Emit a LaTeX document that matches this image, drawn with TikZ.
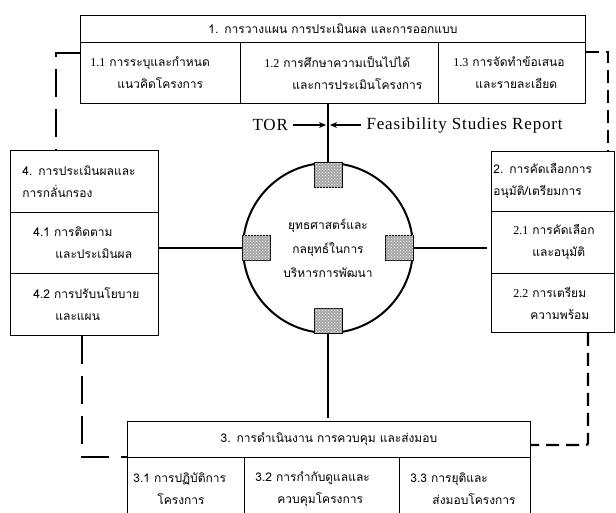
\documentclass[tikz,border=0pt]{standalone}
\usepackage{fontspec}
\setmainfont{Liberation Serif}
\newfontfamily\thai[Script=Thai]{Loma}
\usetikzlibrary{arrows.meta,patterns,calc}
\newcommand{\lnum}[1]{{\rmfamily #1}}
\tikzset{
    cell/.style={draw,rectangle,line width=0.9pt,anchor=north west,inner xsep=0pt,inner ysep=0pt,
                 align=left,font=\thai\fontsize{12}{22}\selectfont},
    head/.style={cell,align=center},
    link/.style={line width=2.5pt},
    dashl/.style={line width=2.8pt,dash pattern=on 28pt off 12pt},
    dashr/.style={line width=2.2pt,dash pattern=on 13pt off 7pt},
    sq/.style={draw,line width=0.8pt,minimum width=28pt,minimum height=25pt,inner sep=0pt,
               fill=gray!70,postaction={pattern=crosshatch dots,pattern color=white}},
    lat/.style={font=\fontsize{17}{19}\selectfont\addfontfeature{LetterSpace=5}},
    inarrow/.style={line width=1.4pt,-{Stealth[length=7pt,width=6pt]}},
}
\begin{document}
\begin{tikzpicture}[x=1pt,y=-1pt]
	\useasboundingbox (0,0) rectangle (616,513);
	% 1. planning
	\node[head,text width=505pt,minimum height=27pt] (b1h) at (80,15) {1. การวางแผน การประเมินผล และการออกแบบ};
	\node[cell,text width=160pt,minimum height=61pt] (b11) at (80,42) {\hspace*{10pt}\lnum{1.1} การระบุและกำหนด\\\hspace*{37pt}แนวคิดโครงการ};
	\node[cell,text width=198pt,minimum height=61pt] (b12) at (240,42) {\hspace*{24pt}\lnum{1.2} การศึกษาความเป็นไปได้\\\hspace*{52pt}และการประเมินโครงการ};
	\node[cell,text width=147pt,minimum height=61pt] (b13) at (438,42) {\hspace*{15pt}\lnum{1.3} การจัดทำข้อเสนอ\\\hspace*{37pt}และรายละเอียด};
	% 2. selection
	\node[cell,text width=123pt,minimum height=60pt] (b2h) at (491,151) {\hspace*{2pt}2. การคัดเลือกการ\\\hspace*{2pt}อนุมัติ/เตรียมการ};
	\node[cell,text width=123pt,minimum height=62pt] (b21) at (491,211) {\hspace*{22pt}\lnum{2.1} การคัดเลือก\\\hspace*{41pt}และอนุมัติ};
	\node[cell,text width=123pt,minimum height=59pt] (b22) at (491,273) {\hspace*{22pt}\lnum{2.2} การเตรียม\\\hspace*{39pt}ความพร้อม};
	% 3. implementation
	\node[head,text width=403pt,minimum height=36pt] (b3h) at (127,421) {3. การดำเนินงาน การควบคุม และส่งมอบ};
	\node[cell,text width=117pt,minimum height=63pt] (b31) at (127,457) {\hspace*{6pt}3.1 การปฏิบัติการ\\\hspace*{30pt}โครงการ};
	\node[cell,text width=155pt,minimum height=63pt] (b32) at (244,457) {\hspace*{11pt}3.2 การกำกับดูแลและ\\\hspace*{33pt}ควบคุมโครงการ};
	\node[cell,text width=131pt,minimum height=63pt] (b33) at (399,457) {\hspace*{11pt}3.3 การยุติและ\\\hspace*{33pt}ส่งมอบโครงการ};
	% 4. evaluation
	\node[cell,text width=148pt,minimum height=62pt] (b4h) at (10,150) {\hspace*{12pt}4. การประเมินผลและ\\\hspace*{12pt}การกลั่นกรอง};
	\node[cell,text width=148pt,minimum height=61pt] (b41) at (10,212) {\hspace*{23pt}4.1 การติดตาม\\\hspace*{45pt}และประเมินผล};
	\node[cell,text width=148pt,minimum height=62pt] (b42) at (10,273) {\hspace*{23pt}4.2 การปรับนโยบาย\\\hspace*{45pt}และแผน};
	% centre
	\node[circle,draw,line width=2pt,minimum size=170pt,inner sep=0pt,align=center,
	      font=\thai\fontsize{12}{24}\selectfont] (circ) at (328,248) {ยุทธศาสตร์และ\\กลยุทธ์ในการ\\บริหารการพัฒนา};
	\draw[link] (circ.north) -- (circ.north |- b12.south);
	\draw[link] (circ.west) -- (circ.west -| b41.east);
	\draw[link] (circ.east) -- ($(circ.east -| b21.west)+(-4,0)$);
	\draw[link] (circ.south) -- ($(circ.south |- b3h.north)+(0,-3)$);
	\node[sq,anchor=north] (sqn) at (circ.north) {};
	\node[sq,anchor=south] (sqs) at (circ.south) {};
	\node[sq,anchor=west] (sqw) at (circ.west) {};
	\node[sq,anchor=east] (sqe) at (circ.east) {};
	% inputs
	\node[lat,anchor=west] (tor) at (249,125) {TOR};
	\node[lat,anchor=west] (fsr) at (363,125) {Feasibility Studies Report};
	\draw[inarrow,shorten <=2pt,shorten >=2pt] (tor) -- (tor -| circ.north);
	\draw[inarrow,shorten <=2pt,shorten >=2pt] (fsr) -- (fsr -| circ.north);
	% feedback loop
	\coordinate (lt) at (56,53);
	\coordinate (lb) at (82,457);
	\coordinate (rt) at (608,52);
	\coordinate (rb) at (588,445);
	\draw[dashl] (lt -| b11.west) -- (lt) -- (lt |- b4h.north);
	\draw[dashl] (lb |- b42.south) -- (lb) -- (lb -| b31.west);
	\draw[dashr] (rt -| b13.east) -- (rt) -- (rt |- b2h.north);
	\draw[dashr,rounded corners=2pt] (rb |- b22.south) -- (rb) -- (rb -| b3h.east);
\end{tikzpicture}
\end{document}
